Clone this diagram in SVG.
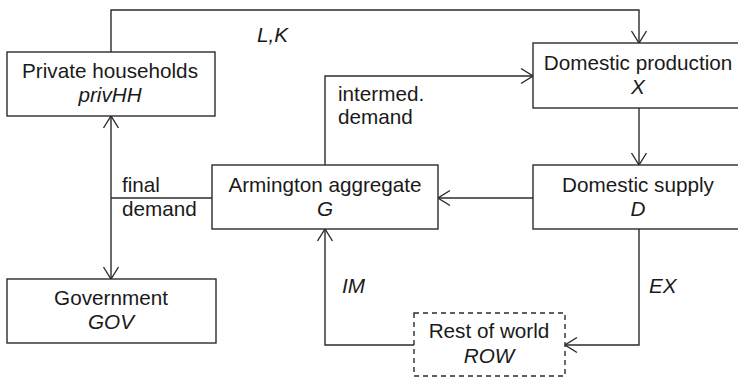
<svg xmlns="http://www.w3.org/2000/svg" width="738" height="377" viewBox="0 0 738 377">
  <style>
    .box { fill: #ffffff; stroke: #2b2b2b; stroke-width: 1.4; }
    .dashed { stroke-dasharray: 5 4; }
    .edge { fill: none; stroke: #2b2b2b; stroke-width: 1.4; }
    text { font-family: "Liberation Sans", Arial, sans-serif; font-size: 20.7px; fill: #1a1a1a; }
    .c { text-anchor: middle; }
    .i { font-style: italic; }
  </style>
  <defs>
    <!-- open V arrowhead -->
    <marker id="arrow" viewBox="0 0 14 18" refX="13" refY="9" markerWidth="14" markerHeight="18" markerUnits="userSpaceOnUse" orient="auto">
      <path d="M1,1.5 L13,9 L1,16.5" fill="none" stroke="#2b2b2b" stroke-width="1.4"/>
    </marker>
  </defs>

  <g id="connectors">
    <!-- factor supply L,K from households to production -->
    <polyline class="edge" points="111,52 111,10 639,10 639,43" marker-end="url(#arrow)"/>
    <!-- intermediate demand from Armington aggregate to production -->
    <polyline class="edge" points="325,165 325,76 533,76" marker-end="url(#arrow)"/>
    <!-- production to domestic supply -->
    <line class="edge" x1="639" y1="108" x2="639" y2="165" marker-end="url(#arrow)"/>
    <!-- domestic supply to Armington aggregate -->
    <line class="edge" x1="533" y1="198" x2="438" y2="198" marker-end="url(#arrow)"/>
    <!-- final demand: households and government -->
    <line class="edge" x1="111" y1="198" x2="111" y2="116" marker-end="url(#arrow)"/>
    <line class="edge" x1="111" y1="198" x2="111" y2="279" marker-end="url(#arrow)"/>
    <line class="edge" x1="111" y1="198" x2="212" y2="198"/>
    <!-- exports -->
    <polyline class="edge" points="639,229 639,345 565,345" marker-end="url(#arrow)"/>
    <!-- imports -->
    <polyline class="edge" points="414,345 325,345 325,229" marker-end="url(#arrow)"/>
  </g>

  <g id="labels">
    <text class="i" x="257" y="42">L,K</text>
    <text x="338" y="101">intermed.</text>
    <text x="338" y="124">demand</text>
    <text x="122" y="192">final</text>
    <text x="122" y="216">demand</text>
    <text class="i" x="342" y="293">IM</text>
    <text class="i" x="649" y="293">EX</text>
  </g>

  <g id="privHH">
    <rect class="box" x="7" y="52" width="208" height="64"/>
    <text class="c" x="110" y="78">Private households</text>
    <text class="c i" x="110" y="102">privHH</text>
  </g>

  <g id="production">
    <rect class="box" x="533" y="43" width="212" height="65"/>
    <text class="c" x="638" y="70">Domestic production</text>
    <text class="c i" x="638" y="94">X</text>
  </g>

  <g id="armington">
    <rect class="box" x="212" y="165" width="226" height="64"/>
    <text class="c" x="325" y="192">Armington aggregate</text>
    <text class="c i" x="325" y="216">G</text>
  </g>

  <g id="supply">
    <rect class="box" x="533" y="165" width="212" height="64"/>
    <text class="c" x="638" y="192">Domestic supply</text>
    <text class="c i" x="638" y="216">D</text>
  </g>

  <g id="government">
    <rect class="box" x="7" y="279" width="209" height="64"/>
    <text class="c" x="111" y="305">Government</text>
    <text class="c i" x="111" y="329">GOV</text>
  </g>

  <g id="row">
    <rect class="box dashed" x="414" y="313" width="151" height="63"/>
    <text class="c" x="489" y="338">Rest of world</text>
    <text class="c i" x="489" y="363">ROW</text>
  </g>
</svg>
